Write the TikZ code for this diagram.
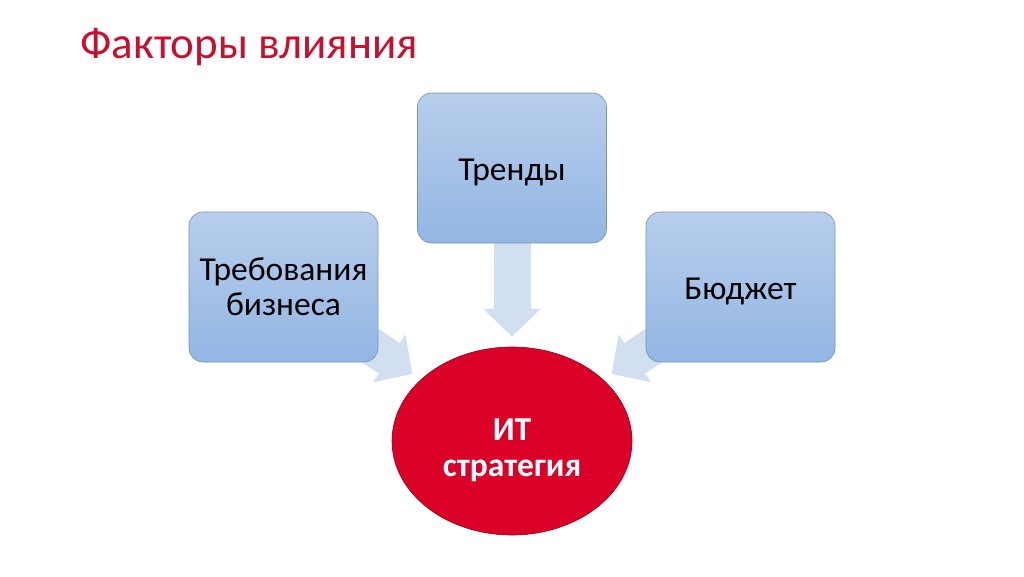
\documentclass[tikz,border=0pt]{standalone}
\usepackage{fontspec}
\setmainfont{Carlito}
\usetikzlibrary{positioning}
\usetikzlibrary{shapes.geometric,arrows.meta,backgrounds}

\definecolor{titlered}{RGB}{200,16,46}
\definecolor{ellred}{RGB}{218,0,40}
\definecolor{boxtop}{RGB}{184,206,236}
\definecolor{boxbot}{RGB}{146,182,227}
\definecolor{boxline}{RGB}{120,145,180}
\definecolor{arrowblue}{RGB}{210,223,240}

\begin{document}
\begin{tikzpicture}[x=1pt,y=-1pt,
  factorbox/.style={rectangle, rounded corners=14pt, draw=boxline, line width=0.6pt,
    top color=boxtop, bottom color=boxbot, minimum width=189pt, minimum height=150pt,
    inner sep=0pt, align=center, font=\fontsize{33.5}{35}\selectfont},
  oneline/.style={text height=30pt, text depth=6pt},
  fatarrow/.style={draw=arrowblue, line width=37pt,
    -{Triangle[width=56pt,length=28pt,fill=arrowblue]}, shorten >=10pt}]

\useasboundingbox (0,0) rectangle (1024,576);

\node[anchor=base west, text=titlered, inner sep=0pt, font=\fontsize{45}{54}\selectfont] (title) at (80,58) {Факторы влияния};

\node[factorbox, oneline] (trends) at (512,168) {Тренды};

\node[factorbox] (business) at (283.5,287) {Требования\\бизнеса};

\node[factorbox, oneline] (budget) at (740.5,287) {Бюджет};

\node[ellipse, draw=ellred!70!black, line width=0.6pt, fill=ellred, minimum width=240pt, minimum height=188pt,
  inner sep=0pt, align=center, text=white, font=\bfseries\fontsize{33.5}{36}\selectfont,
  text height=80pt, text depth=10pt] (itstrat) at (512,441) {ИТ\\стратегия};

% arrows behind the boxes
\begin{scope}[on background layer]
\draw[fatarrow] (trends) -- (itstrat);
\draw[fatarrow] (business.center) -- (itstrat);
\draw[fatarrow] (budget.center) -- (itstrat);
\end{scope}

\end{tikzpicture}
\end{document}
